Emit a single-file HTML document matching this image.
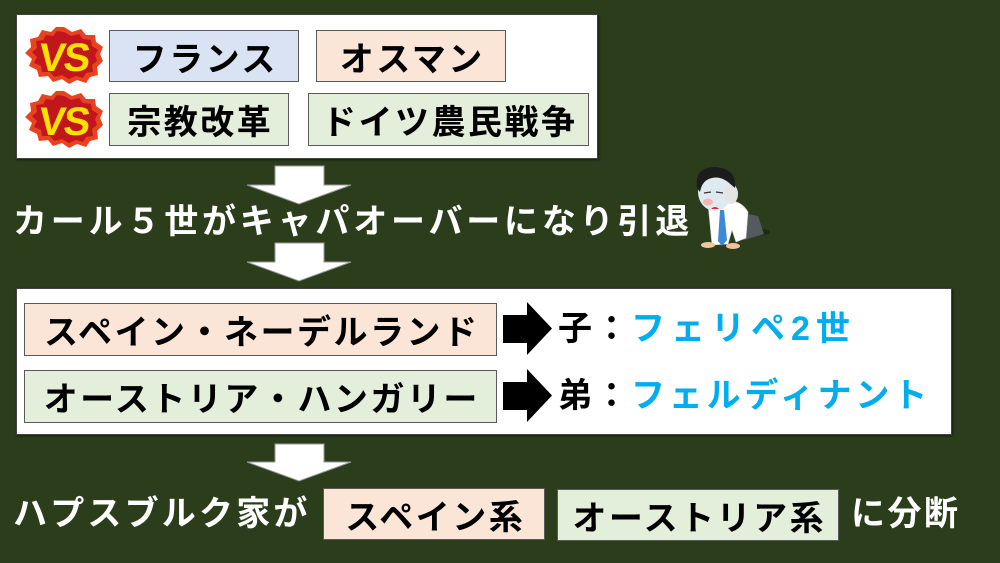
<!DOCTYPE html>
<html><head><meta charset="utf-8">
<style>
*{margin:0;padding:0;box-sizing:border-box}
html,body{width:1000px;height:563px;overflow:hidden;background:#2b3d1b}
body{position:relative;font-family:"Liberation Sans","Noto Sans CJK JP",sans-serif;font-weight:700}
.wb{position:absolute;background:#fff;border:1.5px solid #444;box-shadow:1px 1px 2px rgba(0,0,0,.5)}
.bx{position:absolute;border:1.5px solid #5a5a5a;display:flex;align-items:center;justify-content:center;font-size:34px;color:#000;letter-spacing:2.5px;white-space:nowrap}
.bx span{margin-right:-2.5px}
.blue{background:#dae3f3}.peach{background:#fbe5d6}.green{background:#e4efdb}
.t{position:absolute;font-size:34px;letter-spacing:2.5px;white-space:nowrap;line-height:40px}
.w{color:#fff}.k{color:#000}.c{color:#00aeef}
svg{position:absolute;left:0;top:0}
</style></head><body>
<div class="wb" style="left:16px;top:14px;width:582px;height:145px"></div>
<div class="wb" style="left:16px;top:288px;width:936px;height:147px"></div>

<div class="bx blue" style="left:109px;top:30px;width:190px;height:52px"><span>フランス</span></div>
<div class="bx peach" style="left:316px;top:30px;width:190px;height:52px"><span>オスマン</span></div>
<div class="bx green" style="left:109px;top:93px;width:180px;height:53px"><span>宗教改革</span></div>
<div class="bx green" style="left:308px;top:93px;width:281px;height:53px"><span>ドイツ農民戦争</span></div>

<div class="bx peach" style="left:24px;top:303px;width:473px;height:53px"><span>スペイン・ネーデルランド</span></div>
<div class="bx green" style="left:24px;top:370px;width:473px;height:53px"><span>オーストリア・ハンガリー</span></div>

<div class="bx peach" style="left:323px;top:488px;width:222px;height:52px"><span>スペイン系</span></div>
<div class="bx green" style="left:557px;top:489px;width:282px;height:52px"><span>オーストリア系</span></div>

<div class="t w" style="left:13px;top:202px;letter-spacing:3.8px">カール５世がキャパオーバーになり引退</div>
<div class="t k" style="left:558px;top:309px">子：<span class="c" style="letter-spacing:6px">フェリペ2世</span></div>
<div class="t k" style="left:558px;top:376px">弟：<span class="c" style="letter-spacing:3.8px">フェルディナント</span></div>
<div class="t w" style="left:13px;top:494px;letter-spacing:3.2px">ハプスブルク家が</div>
<div class="t w" style="left:851px;top:494px">に分断</div>

<svg width="1000" height="563" viewBox="0 0 1000 563">
 <defs>
  <g id="vs">
   <polygon fill="#e8431c" points="39,0 47,5 56,2 61,8 70,8 71,15 78,20 75,27 78,34 72,40 73,48 65,50 61,56 52,53 44,57 37,52 28,55 23,49 14,50 12,43 4,39 7,32 0,26 6,20 5,12 13,10 17,3 26,5 31,0"/>
   <polygon fill="#c1161d" points="39,5 46,9 54,7 58,12 66,13 67,19 73,23 70,28 72,34 67,38 68,45 61,46 58,51 51,49 44,52 37,48 29,50 25,45 17,45 16,39 9,36 12,30 7,25 12,21 11,14 18,13 21,8 28,9 32,4"/>
   <text x="39" y="44" text-anchor="middle" font-family="Liberation Sans,sans-serif" font-weight="700" font-size="40" fill="#ffe000" letter-spacing="-2" transform="skewX(-6) translate(3,0)">VS</text>
  </g>
 </defs>
 <use href="#vs" x="25" y="27"/>
 <use href="#vs" x="25" y="91"/>

 <g fill="#fff" stroke="#9a9a9a" stroke-width="1">
  <polygon points="275,166 324,166 324,185 351,185 299,204 247,185 275,185"/>
  <polygon points="275,243 324,243 324,262 351,262 299,281 247,262 275,262"/>
  <polygon points="275,444 324,444 324,462 351,462 299,481 247,462 275,462"/>
 </g>
 <g fill="#000">
  <polygon points="503,315 527,315 527,302 552,328.5 527,355 527,343 503,343"/>
  <polygon points="503,382 527,382 527,369 552,395.5 527,422 527,410 503,410"/>
 </g>

 <!-- tired man -->
 <g>
  <ellipse cx="762" cy="232" rx="8" ry="3" fill="#1d2a12"/>
  <path d="M738,212 L758,216 L764,234 L744,240 L734,232 Z" fill="#555a5e"/>
  <path d="M708,204 Q738,194 748,212 L746,238 L736,242 L732,230 L728,244 L712,245 L710,224 Z" fill="#fff" stroke="#ccc" stroke-width="0.6"/>
  <path d="M720,210 L724,210 L727,240 L722,246 L718,241 Z" fill="#3a8ad8"/>
  <ellipse cx="708" cy="245" rx="7" ry="3" fill="#f3c49b"/>
  <ellipse cx="733" cy="246" rx="7" ry="3" fill="#f3c49b"/>
  <ellipse cx="715" cy="192" rx="17" ry="19" fill="#dfeaf0"/>
  <ellipse cx="731" cy="194" rx="7" ry="10" fill="#e4e4e4"/>
  <path d="M697,188 Q694,167 716,167 Q737,169 735,188 L728,182 Q720,176 712,178 Q702,180 700,192 Z" fill="#1c1c1c"/>
  <ellipse cx="708" cy="202" rx="5" ry="3.5" fill="#f4b4b4"/>
  <path d="M711,209 Q715,205 719,209" fill="#c33"/>
  <path d="M704,193 L711,192 M716,192 L723,193" stroke="#333" stroke-width="1.2"/>
 </g>
</svg>
</body></html>
